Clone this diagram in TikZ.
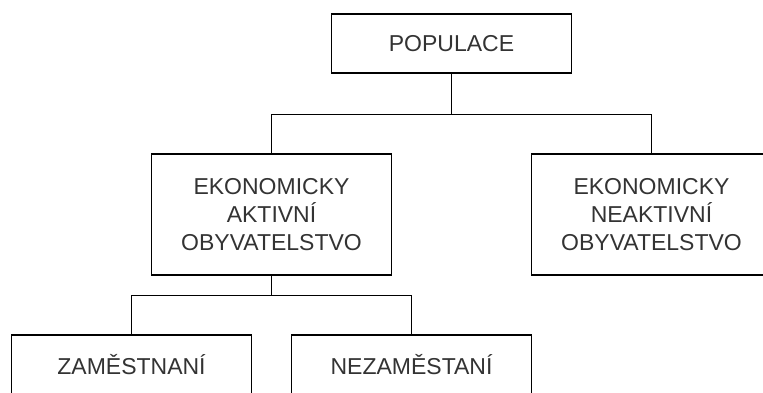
\documentclass[tikz,border=0pt]{standalone}
\usepackage{fontspec}
\setmainfont{Liberation Sans}
\begin{document}
\begin{tikzpicture}[x=1pt,y=-1pt,
  box/.style={draw=black,line width=1.3pt,fill=white,minimum width=240pt,
    text=black!80,align=center,inner sep=0pt,
    font=\fontsize{23}{28.3}\selectfont},
  small/.style={box,minimum height=59pt},
  tall/.style={box,minimum height=121pt},
  conn/.style={draw=black,line width=1.3pt}]
\useasboundingbox (0,0) rectangle (763,392);
\clip (0,0) rectangle (763,392);
\node[small] (pop) at (451.5,43.5) {POPULACE};
\node[tall] (act) at (271.5,214.5) {EKONOMICKY\\AKTIVNÍ\\OBYVATELSTVO};
\node[tall] (neakt) at (651.5,214.5) {EKONOMICKY\\NEAKTIVNÍ\\OBYVATELSTVO};
\node[box,minimum height=60pt] (zam) at (131.5,365) {ZAMĚSTNANÍ};
\node[box,minimum height=60pt] (nezam) at (411.5,365) {NEZAMĚSTANÍ};
\draw[conn] (pop.south) -- ++(0,41) -| (act.north);
\draw[conn] (pop.south) -- ++(0,41) -| (neakt.north);
\draw[conn] (act.south) -- ++(0,20) -| (zam.north);
\draw[conn] (act.south) -- ++(0,20) -| (nezam.north);
\end{tikzpicture}
\end{document}
